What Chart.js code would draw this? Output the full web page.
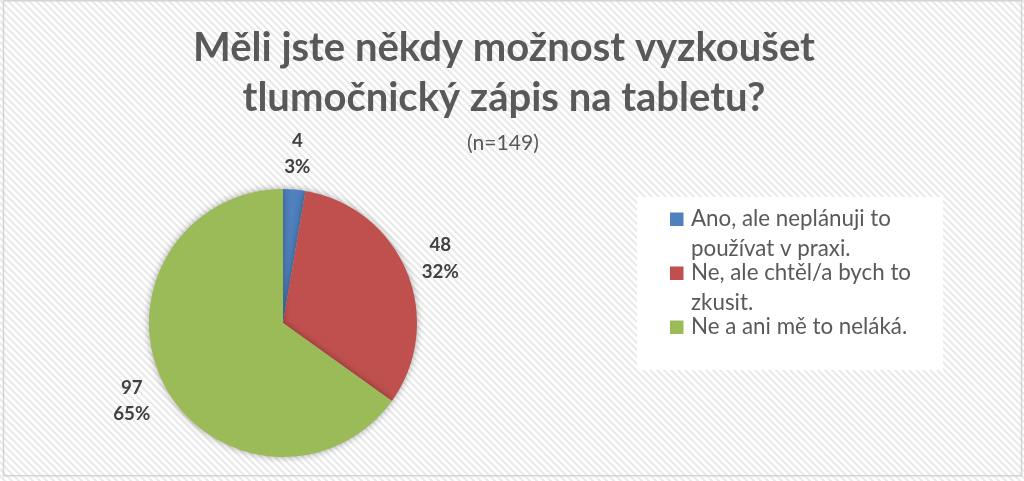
<!DOCTYPE html>
<html>
<head>
<meta charset="utf-8">
<script src="https://cdn.jsdelivr.net/npm/chart.js@4.4.1/dist/chart.umd.min.js"></script>
<style>
  html, body { margin: 0; padding: 0; background: #fff; }
  #wrap { width: 1024px; height: 481px; }
</style>
</head>
<body>
<div id="wrap"><canvas id="pieChart" width="1024" height="481"></canvas></div>
<script>
// chart data
const titleLines = ["Měli jste někdy možnost vyzkoušet", "tlumočnický zápis na tabletu?"];
const subtitle = "(n=149)";
const labels = [
  ["Ano, ale neplánuji to", "používat v praxi."],
  ["Ne, ale chtěl/a bych to", "zkusit."],
  ["Ne a ani mě to neláká."]
];
const counts = [4, 48, 97];
const colors = ["#4F81BD", "#C0504D", "#9BBB59"];

const FONT = "Lato, 'Open Sans', sans-serif";

// font size so that a text has a given width
function fitSize(ctx, text, weight, width) {
  ctx.font = `${weight} 100px ${FONT}`;
  return (100 * width) / ctx.measureText(text).width;
}

function stripePattern(ctx) {
  const tile = document.createElement("canvas");
  tile.width = 7;
  tile.height = 7;
  const t = tile.getContext("2d");
  t.fillStyle = "#ffffff";
  t.fillRect(0, 0, 7, 7);
  t.strokeStyle = "#e9e9e9";
  t.lineWidth = 2;
  t.beginPath();
  t.moveTo(-1, -1); t.lineTo(8, 8);
  t.moveTo(-1, 6); t.lineTo(1, 8);
  t.moveTo(6, -1); t.lineTo(8, 1);
  t.stroke();
  return ctx.createPattern(tile, "repeat");
}

const decorations = {
  id: "decorations",
  beforeDraw(chart) {
    const ctx = chart.ctx;
    ctx.save();
    ctx.fillStyle = stripePattern(ctx);
    ctx.fillRect(0, 0, chart.width, chart.height);
    // frame
    ctx.strokeStyle = "#d4d4d4";
    ctx.lineWidth = 1.5;
    ctx.strokeRect(3.5, 0.75, 1018, 475);
    // legend box
    ctx.fillStyle = "#ffffff";
    ctx.fillRect(637, 197, 306, 173);
    ctx.restore();
  },
  beforeDatasetsDraw(chart) {
    const ctx = chart.ctx;
    ctx.save();
    ctx.shadowColor = "rgba(0,0,0,0.35)";
    ctx.shadowBlur = 7;
  },
  afterDatasetsDraw(chart) {
    chart.ctx.restore();
  },
  afterDraw(chart) {
    const ctx = chart.ctx;
    ctx.save();

    // title
    ctx.fillStyle = "#595959";
    ctx.textAlign = "center";
    ctx.textBaseline = "alphabetic";
    const ts = fitSize(ctx, titleLines[0], "bold", 622);
    ctx.font = `bold ${ts}px ${FONT}`;
    ctx.fillText(titleLines[0], 504, 61);
    ctx.fillText(titleLines[1], 504, 111);

    const ss = fitSize(ctx, subtitle, "normal", 72);
    ctx.font = `normal ${ss}px ${FONT}`;
    ctx.fillText(subtitle, 503, 150);

    // legend
    const ls = fitSize(ctx, labels[0][0], "normal", 200);
    ctx.font = `normal ${ls}px ${FONT}`;
    ctx.textAlign = "left";
    let y = 226;
    labels.forEach((lines, i) => {
      ctx.fillStyle = colors[i];
      ctx.fillRect(670, y - 13.5, 13.5, 13.5);
      ctx.fillStyle = "#595959";
      lines.forEach((line, j) => {
        ctx.fillText(line, 691, y);
        y += j < lines.length - 1 ? 29.5 : 0;
      });
      y += 24.5;
    });

    // data labels outside the slices
    const total = counts.reduce((a, b) => a + b, 0);
    const ds = fitSize(ctx, "65%", "bold", 37);
    ctx.font = `bold ${ds}px ${FONT}`;
    ctx.fillStyle = "#404040";
    ctx.textAlign = "center";
    ctx.textBaseline = "middle";
    chart.getDatasetMeta(0).data.forEach((arc, i) => {
      const p = arc.getProps(["x", "y", "startAngle", "endAngle", "outerRadius"], true);
      const mid = (p.startAngle + p.endAngle) / 2;
      const d = p.outerRadius + 36;
      const cx = p.x + Math.cos(mid) * d;
      const cy = p.y + Math.sin(mid) * d;
      const pct = Math.round((counts[i] / total) * 100) + "%";
      ctx.fillText(String(counts[i]), cx, cy - 13);
      ctx.fillText(pct, cx, cy + 13.5);
    });

    ctx.restore();
  }
};

new Chart(document.getElementById("pieChart"), {
  type: "pie",
  data: {
    labels: labels,
    datasets: [
      {
        data: counts,
        backgroundColor: colors,
        borderWidth: 0,
        hoverOffset: 0
      }
    ]
  },
  options: {
    responsive: false,
    animation: false,
    devicePixelRatio: 1,
    layout: {
      padding: { left: 149, right: 607, top: 189, bottom: 24 }
    },
    plugins: {
      legend: { display: false },
      title: { display: false },
      tooltip: { enabled: false }
    }
  },
  plugins: [decorations]
});
</script>
</body>
</html>
